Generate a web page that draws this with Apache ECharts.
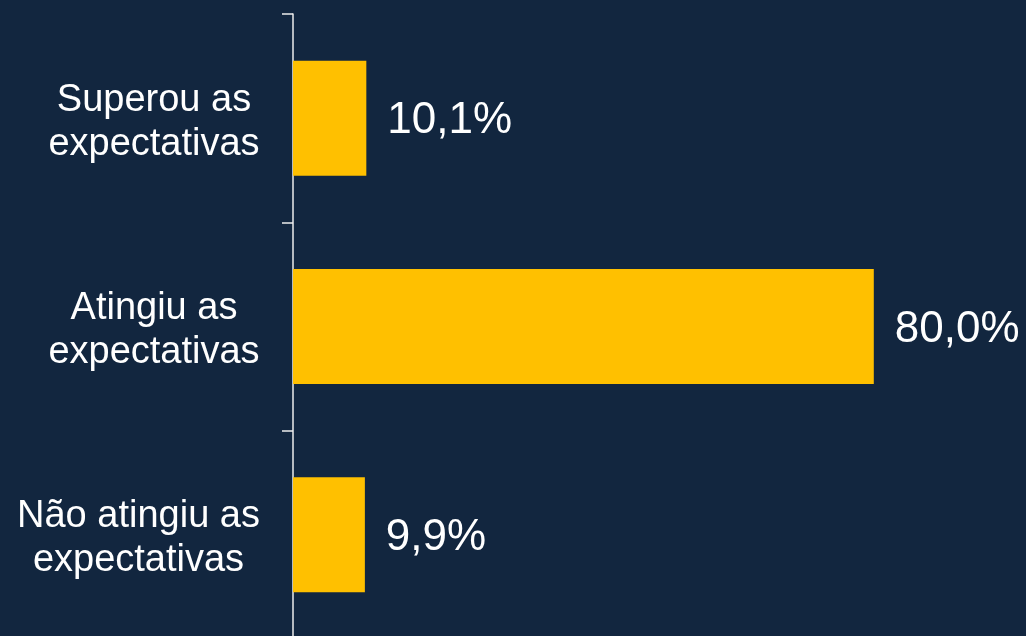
<!DOCTYPE html>
<html>
<head>
<meta charset="utf-8">
<script src="https://cdn.jsdelivr.net/npm/echarts@6/dist/echarts.min.js"></script>
<style>
html,body{margin:0;padding:0;background:#12263F;}
#c{width:1026px;height:636px;}
</style>
</head>
<body>
<div id="c"></div>
<script>
const categories = ['Superou as\nexpectativas', 'Atingiu as\nexpectativas', 'Não atingiu as\nexpectativas'];
const values = [10.1, 80.0, 9.9];

const FONT = '"Liberation Sans", Arial, sans-serif';
const ctx = document.createElement('canvas').getContext('2d');
ctx.font = '38px ' + FONT;
const rich = {};
categories.forEach((c, i) => {
  const w = Math.max(...c.split('\n').map(l => ctx.measureText(l).width));
  rich['s' + i] = { width: Math.ceil(w), align: 'center', color: '#FFFFFF',
    fontFamily: FONT, fontSize: 38, lineHeight: 44 };
});

const chart = echarts.init(document.getElementById('c'));
chart.setOption({
  backgroundColor: '#12263F',
  animation: false,
  grid: { left: 293, top: 14, right: 7, bottom: -3, containLabel: false, outerBoundsMode: 'none' },
  xAxis: {
    type: 'value', min: 0, max: 100, show: false
  },
  yAxis: {
    type: 'category',
    inverse: true,
    data: categories,
    axisLine: { show: true, lineStyle: { color: '#EDEDED', width: 1.5 } },
    axisTick: { show: true, length: 11, lineStyle: { color: '#EDEDED', width: 1.5 } },
    axisLabel: {
      color: '#FFFFFF', fontFamily: FONT,
      fontSize: 38, lineHeight: 44, margin: 33, padding: [8, 0, 0, 0],
      formatter: (v, i) => v.split('\n').map(l => '{s' + i + '|' + l + '}').join('\n'),
      rich: rich
    }
  },
  series: [{
    type: 'bar',
    data: values,
    barWidth: 115,
    itemStyle: { color: '#FFC000' },
    label: {
      show: true, position: 'right', distance: 21, offset: [0, 3],
      color: '#FFFFFF', fontFamily: FONT,
      fontSize: 44,
      formatter: p => p.value.toFixed(1).replace('.', ',') + '%'
    }
  }]
});
</script>
</body>
</html>
